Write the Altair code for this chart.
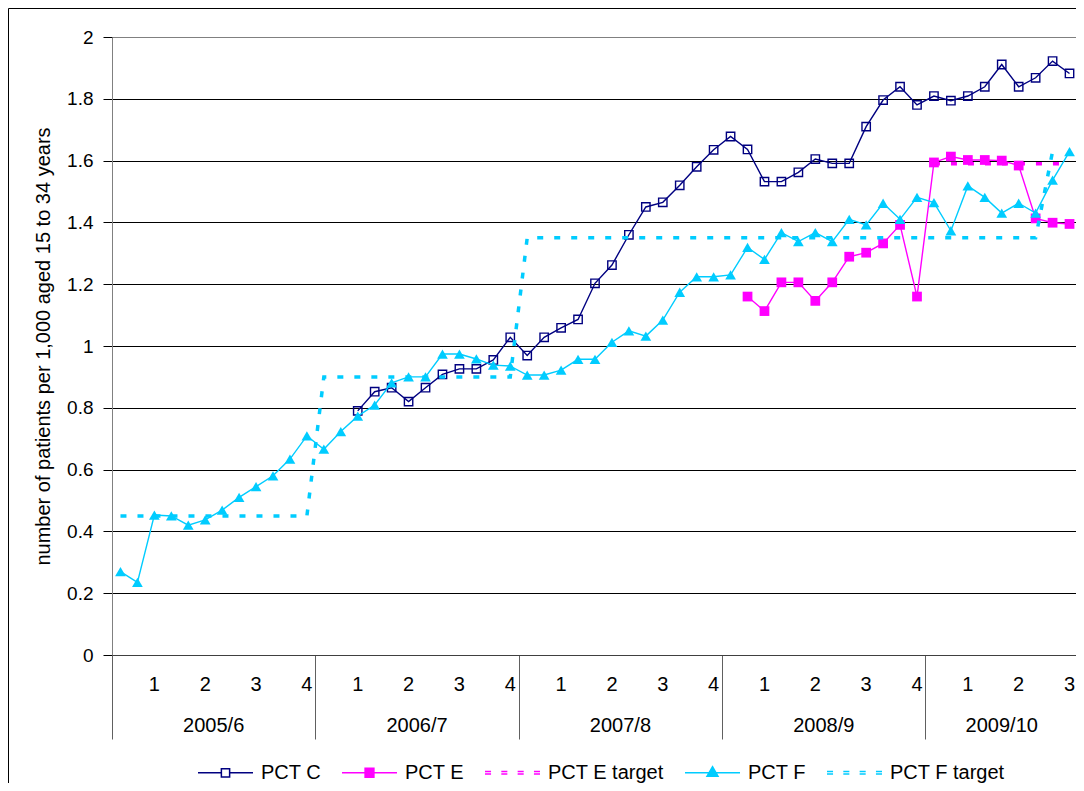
import altair as alt
import pandas as pd

# ---------------- data ----------------
years = ["2005/6", "2006/7", "2007/8", "2008/9", "2009/10"]
months_per_year = [12, 12, 12, 12, 9]

series_names = ["PCT C", "PCT E", "PCT E target", "PCT F", "PCT F target"]
series_colors = ["#000080", "#FF00FF", "#FF00FF", "#00CCFF", "#00CCFF"]

# month index 0 = first month of 2005/6
pct_c_start = 14
pct_c = [0.79, 0.852, 0.865, 0.82, 0.865, 0.908, 0.926, 0.926, 0.955, 1.028,
         0.969, 1.028, 1.059, 1.086, 1.203, 1.262, 1.36, 1.45, 1.465, 1.52,
         1.58, 1.635, 1.678, 1.636, 1.532, 1.532, 1.562, 1.605, 1.591, 1.591,
         1.71, 1.796, 1.839, 1.78, 1.809, 1.794, 1.809, 1.839, 1.911, 1.839,
         1.868, 1.922, 1.882]

pct_e_start = 37
pct_e = [1.16, 1.113, 1.206, 1.206, 1.146, 1.206, 1.289, 1.302, 1.332, 1.392,
         1.16, 1.594, 1.613, 1.602, 1.602, 1.60, 1.584, 1.413, 1.399, 1.395]

pct_e_target_start = 48
pct_e_target = [1.59, 1.59, 1.59, 1.59, 1.59, 1.59, 1.59, 1.59, 1.59]

pct_f_start = 0
pct_f = [0.27, 0.235, 0.453, 0.45, 0.42, 0.437, 0.469, 0.51, 0.545, 0.58,
         0.634, 0.709, 0.666, 0.723, 0.773, 0.809, 0.881, 0.90, 0.90, 0.974,
         0.974, 0.958, 0.938, 0.935, 0.906, 0.906, 0.922, 0.957, 0.957, 1.012,
         1.049, 1.032, 1.084, 1.174, 1.224, 1.224, 1.23, 1.319, 1.28, 1.367,
         1.338, 1.367, 1.338, 1.41, 1.392, 1.462, 1.41, 1.481, 1.464, 1.373,
         1.518, 1.481, 1.43, 1.462, 1.43, 1.537, 1.629]

pct_f_target_start = 0
pct_f_target = [0.45, 0.45, 0.45, 0.45, 0.45, 0.45, 0.45, 0.45, 0.45, 0.45, 0.45, 0.45,
                0.90, 0.90, 0.90, 0.90, 0.90, 0.90, 0.90, 0.90, 0.90, 0.90, 0.90, 0.90,
                1.35, 1.35, 1.35, 1.35, 1.35, 1.35, 1.35, 1.35, 1.35, 1.35, 1.35, 1.35,
                1.35, 1.35, 1.35, 1.35, 1.35, 1.35, 1.35, 1.35, 1.35, 1.35, 1.35, 1.35,
                1.35, 1.35, 1.35, 1.35, 1.35, 1.35, 1.35, 1.63]

y_ticks = [0, 0.2, 0.4, 0.6, 0.8, 1.0, 1.2, 1.4, 1.6, 1.8, 2.0]

# ---------------- tables ----------------
rows = []
for name, start, vals in [("PCT C", pct_c_start, pct_c),
                          ("PCT E", pct_e_start, pct_e),
                          ("PCT E target", pct_e_target_start, pct_e_target),
                          ("PCT F", pct_f_start, pct_f),
                          ("PCT F target", pct_f_target_start, pct_f_target)]:
    for k, v in enumerate(vals):
        rows.append({"series": name, "month": start + k, "value": v})
df = pd.DataFrame(rows)

n_months = sum(months_per_year)
edges = [-0.5]
for n in months_per_year:
    edges.append(edges[-1] + n)

year_rows = []
quarter_rows = []
start = 0
for yname, n in zip(years, months_per_year):
    year_rows.append({"year": yname, "mid": start - 0.5 + n / 2})
    for q in range(n // 3):
        quarter_rows.append({"q": str(q + 1), "month": start + 3 * q + 2})
    start += n
year_df = pd.DataFrame(year_rows)
quarter_df = pd.DataFrame(quarter_rows)

# ---------------- styling ----------------
W, H = 966, 618
FONT = "Liberation Sans"
col = dict(zip(series_names, series_colors))

xscale = alt.Scale(domain=[-0.5, n_months - 0.5], nice=False, zero=False)
yscale = alt.Scale(domain=[0, 2], nice=False)
color_scale = alt.Scale(domain=series_names, range=series_colors)


def sq(h):
    return f"M{-h},{-h}H{h}V{h}H{-h}Z"


def tri(a):
    return f"M0,{-1.1 * a:.4f}L{a},{0.65 * a:.4f}H{-a}Z"


dash_segs = [(-1.0, -0.78), (-0.407, -0.187), (0.187, 0.407), (0.78, 1.0)]
dash_path = "".join(f"M{a},-0.045H{b}M{a},0.045H{b}" for a, b in dash_segs)
legend_paths = [
    "M-1,0H-0.15M0.15,0H1" + sq(0.15),
    "M-1,0H1" + "".join(sq(h) for h in [0.16, 0.11, 0.06, 0.015]),
    dash_path,
    "M-1,0H1" + "".join(tri(a) for a in [0.2, 0.14, 0.08, 0.03]),
    dash_path,
]
shape_scale = alt.Scale(domain=series_names, range=legend_paths)

x_axis = alt.Axis(values=edges, labels=False, title=None, grid=False,
                  tickSize=84, tickColor="#606060", tickWidth=1,
                  domainColor="#404040", domainWidth=1)
y_axis = alt.Axis(values=y_ticks, format=".1~f",
                  title="number of patients per 1,000 aged 15 to 34 years",
                  titleFont=FONT, titleFontSize=20, titleFontWeight="normal",
                  titleColor="black", titlePadding=13,
                  labelFont=FONT, labelFontSize=19, labelColor="black",
                  labelPadding=10, tickSize=9, tickColor="black",
                  domainColor="#808080",
                  gridColor={"condition": {"test": "datum.value >= 2", "value": "#808080"},
                             "value": "black"},
                  gridOpacity=1, gridWidth=1)

X = alt.X("month:Q", scale=xscale, axis=x_axis)
Y = alt.Y("value:Q", scale=yscale, axis=y_axis)

base = alt.Chart(df)


def line(name, **kw):
    return base.transform_filter(alt.datum.series == name).mark_line(
        color=col[name], **kw).encode(x=X, y=Y)


def pts(name, **kw):
    return base.transform_filter(alt.datum.series == name).mark_point(
        color=col[name], opacity=1, **kw).encode(x=X, y=Y)


layers = [
    line("PCT C", strokeWidth=1.4),
    pts("PCT C", shape="square", size=70, filled=False, strokeWidth=1.4),
    line("PCT E", strokeWidth=1.4),
    pts("PCT E", shape="square", size=95, filled=True),
    line("PCT E target", strokeWidth=3.5, strokeDash=[6, 11], strokeCap="butt"),
    line("PCT F", strokeWidth=1.4),
    pts("PCT F", shape="triangle-up", size=115, filled=True),
    line("PCT F target", strokeWidth=3.5, strokeDash=[6, 11], strokeCap="butt"),
]

legend_props = dict(title=None, orient="none", direction="horizontal",
                    legendX=85, legendY=707, symbolSize=3025,
                    symbolStrokeWidth=1.5, symbolOpacity=1,
                    labelFont=FONT, labelFontSize=20, labelColor="black",
                    labelOffset=7, columnPadding=18, padding=0, labelLimit=0)

legend_layer = base.transform_filter("false").mark_point(
    filled=False, opacity=1, strokeWidth=1.5
).encode(
    x=X, y=Y,
    color=alt.Color("series:N", scale=color_scale, legend=alt.Legend(**legend_props)),
    shape=alt.Shape("series:N", scale=shape_scale, legend=alt.Legend(**legend_props)),
)

quarter_text = alt.Chart(quarter_df).mark_text(
    font=FONT, fontSize=20, color="black", baseline="middle", align="center"
).encode(x=alt.X("month:Q", scale=xscale, axis=x_axis), y=alt.value(H + 30), text="q:N")

year_text = alt.Chart(year_df).mark_text(
    font=FONT, fontSize=20, color="black", baseline="middle", align="center"
).encode(x=alt.X("mid:Q", scale=xscale, axis=x_axis), y=alt.value(H + 71), text="year:N")

border = alt.Chart(alt.Data(values=[{"frame": 1}])).mark_rect(
    fill="transparent", stroke="black", strokeWidth=1
).encode(x=alt.value(-103.5), x2=alt.value(W + 20), y=alt.value(-28.5), y2=alt.value(H + 160))

chart = alt.layer(border, *layers, legend_layer, quarter_text, year_text).properties(
    width=W, height=H,
    autosize=alt.AutoSizeParams(type="none"),
    padding={"left": 104, "top": 29, "right": -2, "bottom": 128},
).configure(font=FONT).configure_view(stroke="#808080", strokeWidth=1)

chart.save("out.html", embed_options={"renderer": "svg", "actions": False})
